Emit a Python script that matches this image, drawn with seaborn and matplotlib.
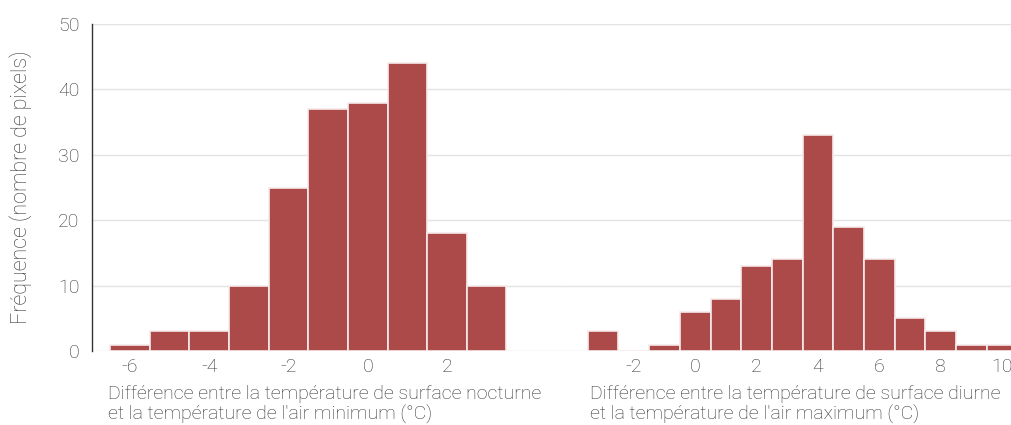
import numpy as np
import pandas as pd
import matplotlib
matplotlib.use("Agg")
import matplotlib.pyplot as plt
import seaborn as sns

# Données (centres des classes de 1 °C et effectifs)
nuit_centres = [-6, -5, -4, -3, -2, -1, 0, 1, 2, 3]
nuit_effectifs = [1, 3, 3, 10, 25, 37, 38, 44, 18, 10]

jour_centres = [-3, -2, -1, 0, 1, 2, 3, 4, 5, 6, 7, 8, 9, 10]
jour_effectifs = [3, 0, 1, 6, 8, 13, 14, 33, 19, 14, 5, 3, 1, 1]

nuit_ticks = [-6, -4, -2, 0, 2]
jour_ticks = [-2, 0, 2, 4, 6, 8, 10]
y_ticks = [0, 10, 20, 30, 40, 50]

label_nuit = "Différence entre la température de surface nocturne\net la température de l'air minimum (°C)"
label_jour = "Différence entre la température de surface diurne\net la température de l'air maximum (°C)"
label_y = "Fréquence (nombre de pixels)"

sns.set_style("white")
plt.rcParams['font.family'] = ['Roboto', 'DejaVu Sans']
plt.rcParams['font.weight'] = 'light'
plt.rcParams['axes.labelweight'] = 'light'
plt.rcParams['axes.unicode_minus'] = False

couleur = '#ac4a4a'
gris_texte = '#333333'

fig = plt.figure(figsize=(10.12, 4.25), dpi=100)
ax1 = fig.add_axes([0.0909, 0.174, 0.4674, 0.7694])
ax2 = fig.add_axes([0.5583, 0.174, 0.4417, 0.7694], sharey=ax1)

df_nuit = pd.DataFrame({'x': nuit_centres, 'n': nuit_effectifs})
df_jour = pd.DataFrame({'x': jour_centres, 'n': jour_effectifs})

for ax, df in [(ax1, df_nuit), (ax2, df_jour)]:
    sns.histplot(data=df, x='x', weights='n', discrete=True, ax=ax,
                 color=couleur, alpha=1, edgecolor='#f6eaea', linewidth=1.2, zorder=2)
    ax.set_axisbelow(True)
    ax.yaxis.grid(True, color='#e3e3e3', linewidth=1)
    ax.xaxis.grid(False)
    for s in ['top', 'right', 'bottom']:
        ax.spines[s].set_visible(False)
    ax.set_xlabel('')
    ax.set_ylabel('')
    ax.tick_params(axis='x', which='minor', direction='in', length=4, width=1, color='#f0dcdc')
    ax.tick_params(axis='x', which='major', direction='in', length=4, width=1, color='#f0dcdc',
                   labelsize=14, labelcolor=gris_texte, pad=5)

ax1.set_ylim(0, 50)
ax1.set_yticks(y_ticks)
ax1.tick_params(axis='y', direction='out', length=6, width=1, color='#333333',
                labelsize=14, labelcolor=gris_texte, pad=3)
ax1.spines['left'].set_color('#333333')
ax1.spines['left'].set_linewidth(1)

ax1.set_xlim(-6.96, 4.98)
ax1.set_xticks(nuit_ticks)
ax1.set_xticks(nuit_centres, minor=True)

ax2.set_xlim(-4.24, 10.32)
ax2.set_xticks(jour_ticks)
ax2.set_xticks(jour_centres, minor=True)
ax2.spines['left'].set_visible(False)
ax2.tick_params(axis='y', left=False, labelleft=False)

ax1.set_ylabel(label_y, fontsize=15.5, color='#333333', labelpad=19)

fig.text(108 / 1012, 1 - 385 / 425, label_nuit, fontsize=14, color=gris_texte,
         ha='left', va='top', linespacing=1.15)
fig.text(590 / 1012, 1 - 385 / 425, label_jour, fontsize=14, color=gris_texte,
         ha='left', va='top', linespacing=1.15)

fig.savefig('out.png', dpi=100)
